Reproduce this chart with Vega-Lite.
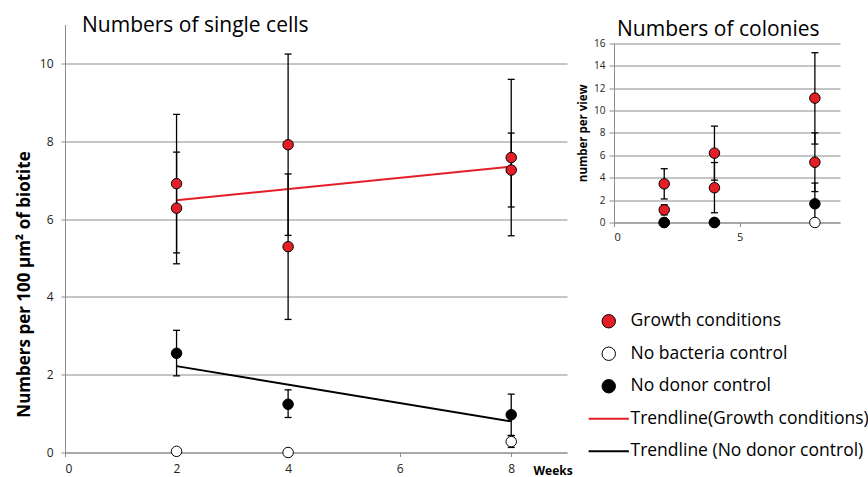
{
  "$schema": "https://vega.github.io/schema/vega-lite/v6.json",
  "padding": {"left": 15, "top": 14.5, "right": 0, "bottom": 0},
  "background": "white",
  "config": {
    "font": "Open Sans",
    "view": {"stroke": null},
    "axis": {"gridColor": "#8c8c8c", "gridWidth": 1, "gridOpacity": 1, "domainColor": "#8c8c8c", "tickColor": "#8c8c8c", "labelColor": "#222222", "labelFont": "Open Sans", "titleFont": "Open Sans", "titleColor": "#000000", "labelOverlap": false},
    "legend": {"orient": "none", "legendX": 535, "legendY": 288, "symbolSize": 180, "labelFontSize": 17.5, "labelFont": "Open Sans", "labelColor": "#000000", "labelOffset": 13, "rowPadding": 13.5, "padding": 0, "labelLimit": 400}
  },
  "datasets": {
    "cells": [
      {"week": 2, "value": 6.91, "lo": 5.13, "hi": 8.69, "series": "Growth conditions"},
      {"week": 2, "value": 6.28, "lo": 4.85, "hi": 7.72, "series": "Growth conditions"},
      {"week": 4, "value": 7.91, "lo": 5.58, "hi": 10.24, "series": "Growth conditions"},
      {"week": 4, "value": 5.29, "lo": 3.42, "hi": 7.16, "series": "Growth conditions"},
      {"week": 8, "value": 7.58, "lo": 5.57, "hi": 9.59, "series": "Growth conditions"},
      {"week": 8, "value": 7.26, "lo": 6.31, "hi": 8.21, "series": "Growth conditions"},
      {"week": 2, "value": 0.03, "lo": 0.0, "hi": 0.08, "series": "No bacteria control"},
      {"week": 4, "value": 0.0, "lo": null, "hi": null, "series": "No bacteria control"},
      {"week": 8, "value": 0.28, "lo": 0.13, "hi": 0.43, "series": "No bacteria control"},
      {"week": 2, "value": 2.55, "lo": 1.97, "hi": 3.14, "series": "No donor control"},
      {"week": 4, "value": 1.24, "lo": 0.9, "hi": 1.61, "series": "No donor control"},
      {"week": 8, "value": 0.97, "lo": 0.44, "hi": 1.5, "series": "No donor control"}
    ],
    "trend": [
      {"week": 2, "value": 6.48, "series": "Trendline(Growth conditions)"},
      {"week": 8, "value": 7.35, "series": "Trendline(Growth conditions)"},
      {"week": 2, "value": 2.22, "series": "Trendline (No donor control)"},
      {"week": 8, "value": 0.8, "series": "Trendline (No donor control)"}
    ],
    "colonies": [
      {"week": 2, "value": 3.45, "lo": 2.1, "hi": 4.8, "series": "Growth conditions"},
      {"week": 2, "value": 1.13, "lo": 0.68, "hi": 1.58, "series": "Growth conditions"},
      {"week": 4, "value": 6.19, "lo": 3.78, "hi": 8.6, "series": "Growth conditions"},
      {"week": 4, "value": 3.1, "lo": 0.87, "hi": 5.35, "series": "Growth conditions"},
      {"week": 8, "value": 11.1, "lo": 7.0, "hi": 15.15, "series": "Growth conditions"},
      {"week": 8, "value": 5.38, "lo": 2.76, "hi": 8.0, "series": "Growth conditions"},
      {"week": 2, "value": 0, "lo": null, "hi": null, "series": "No bacteria control"},
      {"week": 4, "value": 0, "lo": null, "hi": null, "series": "No bacteria control"},
      {"week": 8, "value": 0, "lo": null, "hi": null, "series": "No bacteria control"},
      {"week": 2, "value": 0, "lo": null, "hi": null, "series": "No donor control"},
      {"week": 4, "value": 0, "lo": null, "hi": null, "series": "No donor control"},
      {"week": 8, "value": 1.67, "lo": -0.18, "hi": 3.52, "series": "No donor control"}
    ]
  },
  "bounds": "flush",
  "spacing": 47,
  "resolve": {"scale": {"fill": "independent", "stroke": "independent", "shape": "independent", "strokeWidth": "independent"}},
  "hconcat": [
    {
      "width": 502,
      "height": 428,
      "title": {"text": "Numbers of single cells", "anchor": "start", "frame": "group", "dx": 17, "dy": 22, "offset": -6, "baseline": "alphabetic", "fontSize": 21, "fontWeight": "normal", "font": "Open Sans", "color": "#000000"},
      "encoding": {
        "x": {"field": "week", "type": "quantitative", "scale": {"domain": [0, 9], "nice": false, "zero": false},
          "axis": {"values": [0, 2, 4, 6, 8], "title": "Weeks", "titleFontSize": 12, "titleFontWeight": "bold", "titleX": 468, "titleY": 21.5, "titleAlign": "left", "titleBaseline": "alphabetic", "labelFontSize": 12, "labelPadding": 7, "tickSize": 4, "grid": false, "domain": true}}
      },
      "layer": [
        {
          "data": {"name": "trend"},
          "mark": {"type": "line", "strokeWidth": 2},
          "encoding": {
            "y": {"field": "value", "type": "quantitative", "scale": {"domain": [0, 11], "nice": false},
              "axis": {"values": [0, 2, 4, 6, 8, 10], "title": "Numbers per 100 µm² of biotite", "titleFontSize": 17, "titleFontWeight": "bold", "titlePadding": 6, "titleY": 259.5, "labelFontSize": 12, "labelPadding": 8, "tickSize": 4, "grid": true, "domain": true}},
            "stroke": {"field": "series", "type": "nominal",
              "scale": {"domain": ["Growth conditions", "No bacteria control", "No donor control", "Trendline(Growth conditions)", "Trendline (No donor control)"], "range": ["#000000", "#000000", "#000000", "#e41e26", "#000000"]},
              "legend": {"title": null}}
          }
        },
        {
          "data": {"name": "cells"},
          "mark": {"type": "rule", "color": "#000000", "strokeWidth": 1.3},
          "encoding": {
            "y": {"field": "lo", "type": "quantitative", "scale": {"domain": [0, 11], "nice": false},
              "axis": {"values": [0, 2, 4, 6, 8, 10], "title": "Numbers per 100 µm² of biotite", "titleFontSize": 17, "titleFontWeight": "bold", "titlePadding": 6, "titleY": 259.5, "labelFontSize": 12, "labelPadding": 8, "tickSize": 4, "grid": true, "domain": true}},
            "y2": {"field": "hi"}
          }
        },
        {
          "data": {"name": "cells"},
          "mark": {"type": "tick", "orient": "horizontal", "size": 7, "thickness": 1.3, "color": "#000000", "opacity": 1},
          "encoding": {
            "y": {"field": "lo", "type": "quantitative", "scale": {"domain": [0, 11], "nice": false},
              "axis": {"values": [0, 2, 4, 6, 8, 10], "title": "Numbers per 100 µm² of biotite", "titleFontSize": 17, "titleFontWeight": "bold", "titlePadding": 6, "titleY": 259.5, "labelFontSize": 12, "labelPadding": 8, "tickSize": 4, "grid": true, "domain": true}}
          }
        },
        {
          "data": {"name": "cells"},
          "mark": {"type": "tick", "orient": "horizontal", "size": 7, "thickness": 1.3, "color": "#000000", "opacity": 1},
          "encoding": {
            "y": {"field": "hi", "type": "quantitative", "scale": {"domain": [0, 11], "nice": false},
              "axis": {"values": [0, 2, 4, 6, 8, 10], "title": "Numbers per 100 µm² of biotite", "titleFontSize": 17, "titleFontWeight": "bold", "titlePadding": 6, "titleY": 259.5, "labelFontSize": 12, "labelPadding": 8, "tickSize": 4, "grid": true, "domain": true}}
          }
        },
        {
          "data": {"name": "cells"},
          "mark": {"type": "point", "filled": true, "size": 110, "opacity": 1},
          "encoding": {
            "y": {"field": "value", "type": "quantitative", "scale": {"domain": [0, 11], "nice": false},
              "axis": {"values": [0, 2, 4, 6, 8, 10], "title": "Numbers per 100 µm² of biotite", "titleFontSize": 17, "titleFontWeight": "bold", "titlePadding": 6, "titleY": 259.5, "labelFontSize": 12, "labelPadding": 8, "tickSize": 4, "grid": true, "domain": true}},
            "fill": {"field": "series", "type": "nominal",
              "scale": {"domain": ["Growth conditions", "No bacteria control", "No donor control", "Trendline(Growth conditions)", "Trendline (No donor control)"], "range": ["#e41e26", "#ffffff", "#000000", "transparent", "transparent"]},
              "legend": {"title": null}},
            "stroke": {"field": "series", "type": "nominal",
              "scale": {"domain": ["Growth conditions", "No bacteria control", "No donor control", "Trendline(Growth conditions)", "Trendline (No donor control)"], "range": ["#000000", "#000000", "#000000", "#e41e26", "#000000"]},
              "legend": {"title": null}},
            "shape": {"field": "series", "type": "nominal",
              "scale": {"domain": ["Growth conditions", "No bacteria control", "No donor control", "Trendline(Growth conditions)", "Trendline (No donor control)"], "range": ["circle", "circle", "circle", "M-3,0H3", "M-3,0H3"]},
              "legend": {"title": null}},
            "strokeWidth": {"field": "series", "type": "nominal",
              "scale": {"type": "ordinal", "domain": ["Growth conditions", "No bacteria control", "No donor control", "Trendline(Growth conditions)", "Trendline (No donor control)"], "range": [1, 1, 1, 2, 2]},
              "legend": {"title": null}}
          }
        }
      ]
    },
    {
      "width": 226,
      "height": 198,
      "title": {"text": "Numbers of colonies", "anchor": "start", "frame": "group", "dx": 3, "dy": 21.5, "offset": -11, "baseline": "alphabetic", "fontSize": 21, "fontWeight": "normal", "font": "Open Sans", "color": "#000000"},
      "data": {"name": "colonies"},
      "encoding": {
        "x": {"field": "week", "type": "quantitative", "scale": {"domain": [0, 9], "nice": false, "zero": false},
          "axis": {"values": [0, 5], "title": null, "labelFontSize": 11, "labelPadding": 5, "tickSize": 4, "grid": false, "domain": true}}
      },
      "layer": [
        {
          "mark": {"type": "rule", "color": "#000000", "strokeWidth": 1.3},
          "encoding": {
            "y": {"field": "lo", "type": "quantitative", "scale": {"domain": [0, 16], "nice": false, "range": [198, 18.7]},
              "axis": {"values": [0, 2, 4, 6, 8, 10, 12, 14, 16], "title": "number per view", "titleFontSize": 11.5, "titleFontWeight": "bold", "titlePadding": 5, "labelFontSize": 10, "labelPadding": 4, "tickSize": 5, "grid": true, "domain": true}},
            "y2": {"field": "hi"}
          }
        },
        {
          "mark": {"type": "tick", "orient": "horizontal", "size": 7, "thickness": 1.3, "color": "#000000", "opacity": 1},
          "encoding": {
            "y": {"field": "lo", "type": "quantitative", "scale": {"domain": [0, 16], "nice": false, "range": [198, 18.7]},
              "axis": {"values": [0, 2, 4, 6, 8, 10, 12, 14, 16], "title": "number per view", "titleFontSize": 11.5, "titleFontWeight": "bold", "titlePadding": 5, "labelFontSize": 10, "labelPadding": 4, "tickSize": 5, "grid": true, "domain": true}}
          }
        },
        {
          "mark": {"type": "tick", "orient": "horizontal", "size": 7, "thickness": 1.3, "color": "#000000", "opacity": 1},
          "encoding": {
            "y": {"field": "hi", "type": "quantitative", "scale": {"domain": [0, 16], "nice": false, "range": [198, 18.7]},
              "axis": {"values": [0, 2, 4, 6, 8, 10, 12, 14, 16], "title": "number per view", "titleFontSize": 11.5, "titleFontWeight": "bold", "titlePadding": 5, "labelFontSize": 10, "labelPadding": 4, "tickSize": 5, "grid": true, "domain": true}}
          }
        },
        {
          "mark": {"type": "point", "filled": true, "size": 110, "opacity": 1, "strokeWidth": 1},
          "encoding": {
            "y": {"field": "value", "type": "quantitative", "scale": {"domain": [0, 16], "nice": false, "range": [198, 18.7]},
              "axis": {"values": [0, 2, 4, 6, 8, 10, 12, 14, 16], "title": "number per view", "titleFontSize": 11.5, "titleFontWeight": "bold", "titlePadding": 5, "labelFontSize": 10, "labelPadding": 4, "tickSize": 5, "grid": true, "domain": true}},
            "fill": {"field": "series", "type": "nominal",
              "scale": {"domain": ["Growth conditions", "No bacteria control", "No donor control"], "range": ["#e41e26", "#ffffff", "#000000"]},
              "legend": null},
            "stroke": {"value": "#000000"}
          }
        }
      ]
    }
  ]
}
